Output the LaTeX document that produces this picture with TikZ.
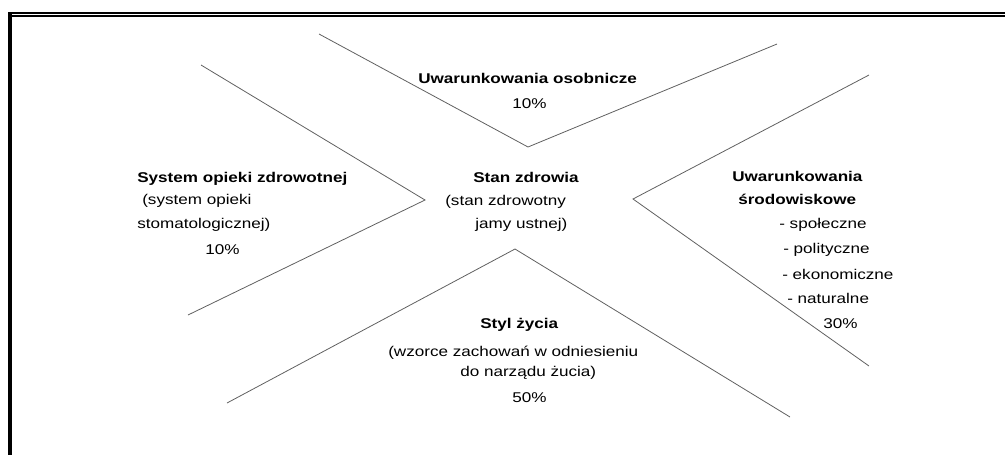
\documentclass[tikz,border=0pt]{standalone}
\usepackage{fontspec}
\setmainfont{Liberation Sans}[FakeStretch=1.21]
\usepackage{tikz}
\definecolor{linegray}{HTML}{606060}

\begin{document}
\begin{tikzpicture}[x=0.75pt, y=-0.75pt,
  head/.style={font=\fontsize{10.6}{12}\selectfont\bfseries, anchor=base west, inner sep=0pt},
  body/.style={font=\fontsize{10.6}{12}\selectfont, anchor=base west, inner sep=0pt},
  arm/.style={draw=linegray, line width=0.6pt},
  frame/.style={draw=black, line cap=butt}
]
\useasboundingbox (0,0) rectangle (1005,455);

% frame
\draw[frame, line width=3pt] (10,12) -- (10,455);
\draw[frame, line width=1.5pt] (8,13) -- (1005,13);
\draw[frame, line width=1.5pt] (12,16) -- (1005,16);

% arms
\coordinate (topA) at (319,34);
\coordinate (topV) at (528,147);
\coordinate (topB) at (777,44);
\coordinate (lftA) at (201,65);
\coordinate (lftV) at (425,200);
\coordinate (lftB) at (188,315);
\coordinate (rgtA) at (869,75);
\coordinate (rgtV) at (633,199);
\coordinate (rgtB) at (869,366);
\coordinate (botA) at (227,403);
\coordinate (botV) at (515,249);
\coordinate (botB) at (790,417);

\draw[arm] (topA) -- (topV) -- (topB);
\draw[arm] (lftA) -- (lftV) -- (lftB);
\draw[arm] (rgtA) -- (rgtV) -- (rgtB);
\draw[arm] (botA) -- (botV) -- (botB);

% top
\node[head] (osob) at (418,83) {Uwarunkowania osobnicze};
\node[body] (osobpct) at (512,108) {10\%};

% left
\node[head] (sys) at (137,182) {System opieki zdrowotnej};
\node[body] (sys1) at (142,204) {(system opieki};
\node[body] (sys2) at (137,228) {stomatologicznej)};
\node[body] (syspct) at (205,254) {10\%};

% centre
\node[head] (stan) at (473,182) {Stan zdrowia};
\node[body] (stan1) at (445,205) {(stan zdrowotny};
\node[body] (stan2) at (475,228) {jamy ustnej)};

% right
\node[head] (srod) at (732,181) {Uwarunkowania};
\node[head] (srod1) at (738,204) {środowiskowe};
\node[body] (spol) at (779,228) {- społeczne};
\node[body] (poli) at (783,253) {- polityczne};
\node[body] (ekon) at (782,279) {- ekonomiczne};
\node[body] (natu) at (787,303) {- naturalne};
\node[body] (srodpct) at (823,328) {30\%};

% bottom
\node[head] (styl) at (480,328) {Styl życia};
\node[body] (styl1) at (388,356) {(wzorce zachowań w odniesieniu};
\node[body] (styl2) at (460,376) {do narządu żucia)};
\node[body] (stylpct) at (512,402) {50\%};

\end{tikzpicture}
\end{document}
